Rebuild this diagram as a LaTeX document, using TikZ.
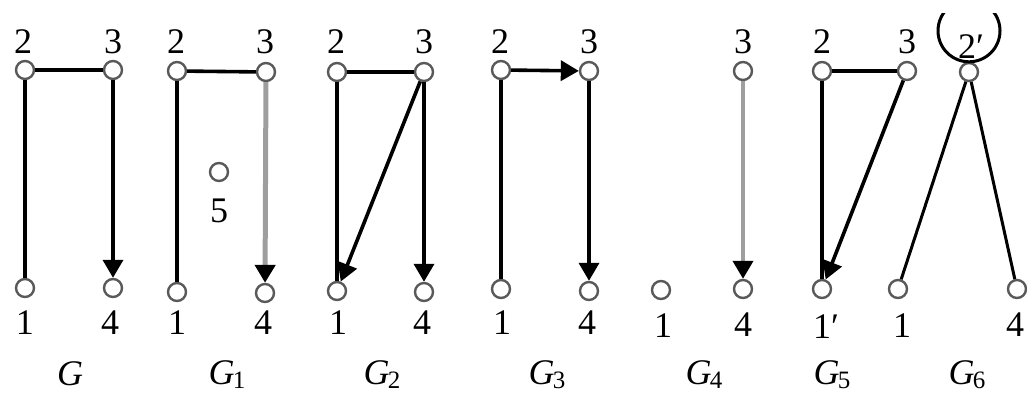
\documentclass[tikz,border=0pt]{standalone}
\usepackage{fontspec}
\setmainfont{Liberation Serif}
\usetikzlibrary{arrows.meta}
\newcommand{\Gsub}[1]{{\itshape G}\kern-0.05em\raisebox{-4pt}{\fontsize{25}{25}\selectfont #1}}
\begin{document}
\begin{tikzpicture}[x=1pt,y=-1pt,
  v/.style={circle,draw=black!65,line width=2.4pt,minimum size=18pt,inner sep=0pt,fill=white},
  lab/.style={inner sep=0pt,font=\fontsize{36}{38}\selectfont},
  glab/.style={lab,anchor=base},
  e/.style={line width=3.6pt},
  ar/.style={e,-{Triangle[length=18pt,width=20pt]}},
  gre/.style={line width=5pt,draw=black!38,-{Triangle[length=18pt,width=20pt,color=black]}},
  loopc/.style={line width=3pt,draw=black}]
\useasboundingbox (0,0) rectangle (1027,394);
% G
\node[v] (a2) at (25,70) {};
\node[v] (a3) at (113,70) {};
\node[v] (a1) at (25,288) {};
\node[v] (a4) at (113,288) {};
\node[lab] (la2) at (23,42) {2};
\node[lab] (la3) at (113,42) {3};
\node[lab] (la1) at (25,323) {1};
\node[lab] (la4) at (110,323) {4};
\node[glab] (ga) at (70,385) {\itshape G};
\draw[e] (a2) -- (a3);
\draw[e] (a2) -- (a1);
\draw[ar] (a3) -- (a4);
% G1
\node[v] (b2) at (177,71) {};
\node[v] (b3) at (266,72) {};
\node[v] (b1) at (177,292) {};
\node[v] (b4) at (265,293) {};
\node[v] (b5) at (219,172) {};
\node[lab] (lb2) at (176,42) {2};
\node[lab] (lb3) at (265,42) {3};
\node[lab] (lb1) at (177,323) {1};
\node[lab] (lb4) at (263,323) {4};
\node[lab] (lb5) at (219,211) {5};
\node[glab] (gb) at (227,384) {\Gsub{1}};
\draw[e] (b2) -- (b3);
\draw[e] (b2) -- (b1);
\draw[gre] (b3) -- (b4);
% G2
\node[v] (c2) at (337,72) {};
\node[v] (c3) at (424,72) {};
\node[v] (c1) at (337,291) {};
\node[v] (c4) at (424,292) {};
\node[lab] (lc2) at (336,42) {2};
\node[lab] (lc3) at (424,42) {3};
\node[lab] (lc1) at (338,323) {1};
\node[lab] (lc4) at (422,323) {4};
\node[glab] (gc) at (382,384) {\Gsub{2}};
\draw[e] (c2) -- (c3);
\draw[e] (c2) -- (c1);
\draw[ar] (c3) -- (c1);
\draw[ar] (c3) -- (c4);
% G3
\node[v] (d2) at (501,70) {};
\node[v] (d3) at (589,71) {};
\node[v] (d1) at (501,289) {};
\node[v] (d4) at (589,291) {};
\node[lab] (ld2) at (500,42) {2};
\node[lab] (ld3) at (589,42) {3};
\node[lab] (ld1) at (502,323) {1};
\node[lab] (ld4) at (587,323) {4};
\node[glab] (gd) at (547,384) {\Gsub{3}};
\draw[ar] (d2) -- (d3);
\draw[e] (d2) -- (d1);
\draw[ar] (d3) -- (d4);
% G4
\node[v] (e1) at (661,290) {};
\node[v] (e3) at (743,71) {};
\node[v] (e4) at (743,289) {};
\node[lab] (le3) at (743,42) {3};
\node[lab] (le1) at (663,326) {1};
\node[lab] (le4) at (743,325) {4};
\node[glab] (ge) at (704,384) {\Gsub{4}};
\draw[gre,line width=4pt] (e3) -- (e4);
% G5
\node[v] (f2) at (822,71) {};
\node[v] (f3) at (907,71) {};
\node[v] (f1) at (822,289) {};
\node[lab] (lf2) at (822,42) {2};
\node[lab] (lf3) at (907,42) {3};
\node[lab] (lf1) at (826,327) {1\char"2032};
\node[glab] (gf) at (832,384) {\Gsub{5}};
\draw[e] (f2) -- (f3);
\draw[e,line width=4.2pt] (f2) -- (f1);
\draw[ar] (f3) -- (f1);
% G6
\node[v] (h2) at (969,72) {};
\node[v] (h1) at (898,289) {};
\node[v] (h4) at (1017,289) {};
\node[lab] (lh2) at (971,47) {2\char"2032};
\node[lab] (lh1) at (902,326) {1};
\node[lab] (lh4) at (1015,325) {4};
\node[glab] (gh) at (967,384) {\Gsub{6}};
\draw[e,line width=3pt] (h2) -- (h1);
\draw[e,line width=3pt] (h2) -- (h4);
\begin{scope}
\clip (900,13) rectangle (1027,80);
\draw[loopc] (h2.north) arc[start angle=90,end angle=450,radius=31];
\end{scope}
\end{tikzpicture}
\end{document}
